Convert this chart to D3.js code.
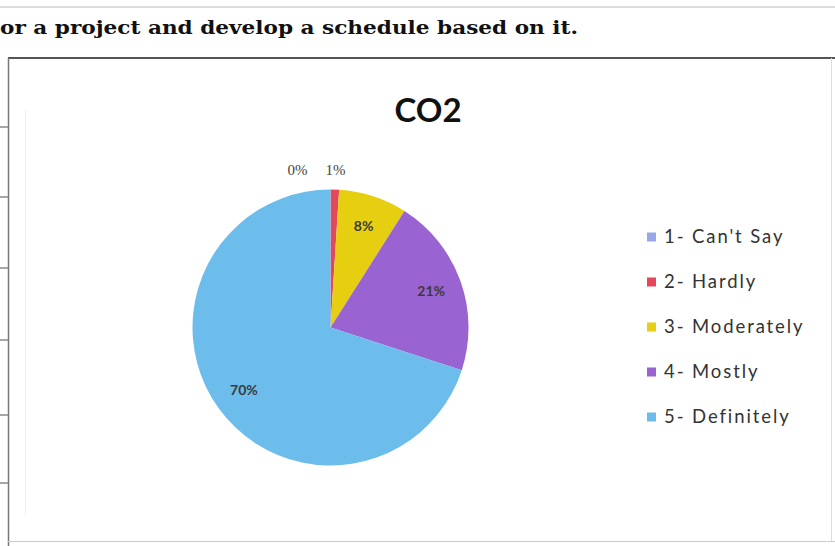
<!DOCTYPE html>
<html><head><meta charset="utf-8">
<script src="https://cdn.jsdelivr.net/npm/d3@7/dist/d3.min.js"></script>
<style>html,body{margin:0;padding:0;background:#fff;}svg{display:block;}</style>
</head><body>
<svg id="c" width="835" height="546"></svg>
<script>
const categories = ["1- Can't Say", "2- Hardly", "3- Moderately", "4- Mostly", "5- Definitely"];
const values = [0, 1, 8, 21, 70];
const valueLabels = ["0%", "1%", "8%", "21%", "70%"];
const colors = ["#98a8e6", "#e2475a", "#e6cf10", "#9a63d2", "#6cbdec"];
const chartTitle = "CO2";
const headerText = "or a project and develop a schedule based on it.";

const svg = d3.select("#c");

// page background lines (document context)
svg.append("line").attr("x1",0).attr("x2",835).attr("y1",7).attr("y2",7).attr("stroke","#bbb").attr("stroke-width",1);
svg.append("text").attr("x",0).attr("y",34)
  .attr("font-family","DejaVu Serif, Liberation Serif, serif").attr("font-weight","bold").attr("font-size",19)
  .attr("fill","#111").attr("textLength",578).attr("lengthAdjust","spacingAndGlyphs").text(headerText);

// chart frame
svg.append("line").attr("x1",8).attr("x2",835).attr("y1",58).attr("y2",58).attr("stroke","#555").attr("stroke-width",2);
svg.append("line").attr("x1",8.5).attr("x2",8.5).attr("y1",58).attr("y2",546).attr("stroke","#777").attr("stroke-width",1.5);
svg.append("line").attr("x1",8).attr("x2",835).attr("y1",541.5).attr("y2",541.5).attr("stroke","#ccc").attr("stroke-width",1);
svg.append("line").attr("x1",831.5).attr("x2",831.5).attr("y1",58).attr("y2",541).attr("stroke","#ddd").attr("stroke-width",1);
svg.append("line").attr("x1",25.5).attr("x2",25.5).attr("y1",110).attr("y2",515).attr("stroke","#eee").attr("stroke-width",1);
[127,197,268,340,415,483].forEach(y=>{
  svg.append("line").attr("x1",0).attr("x2",8).attr("y1",y).attr("y2",y).attr("stroke","#888").attr("stroke-width",1.5);
});

// title
svg.append("text").attr("x",428).attr("y",122).attr("text-anchor","middle")
  .attr("font-family","Lato, Open Sans, sans-serif").attr("font-weight","bold").attr("font-size",33)
  .attr("fill","#111").text(chartTitle);

// pie
const cx = 330.5, cy = 327.5, R = 138;
const pie = d3.pie().sort(null).value(d=>d.v)(values.map((v,i)=>({v,i})));
const arc = d3.arc().innerRadius(0).outerRadius(R);
const labelArc = d3.arc().innerRadius(107).outerRadius(107);
const outArc = d3.arc().innerRadius(158).outerRadius(158);
const g = svg.append("g").attr("transform",`translate(${cx},${cy})`);
g.selectAll("path").data(pie).join("path")
  .attr("d",arc).attr("fill",d=>colors[d.data.i]).attr("stroke","none");

const fontLbl = "Lato, Open Sans, sans-serif";
let prevLeft = null;
// outside labels for tiny slices, placed right-to-left to avoid overlap
const small = pie.filter(d=>d.data.v < 3).sort((a,b)=>b.data.i-a.data.i);
small.forEach(d=>{
  const [x,y] = outArc.centroid(d);
  let lx = x;
  if (prevLeft !== null && lx + 14 > prevLeft) lx = prevLeft - 26;
  g.append("text").attr("x",lx).attr("y",y).attr("text-anchor","middle").attr("dy","0.35em")
    .attr("font-family","Liberation Serif, serif").attr("font-size",15).attr("fill","#444").text(valueLabels[d.data.i]);
  prevLeft = lx - 12;
});
pie.filter(d=>d.data.v >= 3).forEach(d=>{
  const [x,y] = labelArc.centroid(d);
  g.append("text").attr("x",x).attr("y",y).attr("text-anchor","middle").attr("dy","0.35em")
    .attr("font-family",fontLbl).attr("font-weight","bold").attr("font-size",14).attr("fill","#3a3a3a").text(valueLabels[d.data.i]);
});

// legend
const ly = d3.scalePoint().domain(categories).range([237,417]);
const lg = svg.append("g");
categories.forEach((c,i)=>{
  lg.append("rect").attr("x",647).attr("y",ly(c)-4.5).attr("width",9).attr("height",9).attr("fill",colors[i]);
  lg.append("text").attr("x",664).attr("y",ly(c)).attr("dy","0.35em")
    .attr("font-family",fontLbl).attr("font-size",18.5).attr("letter-spacing",1.9).attr("fill","#333").text(c);
});
</script>
</body></html>
